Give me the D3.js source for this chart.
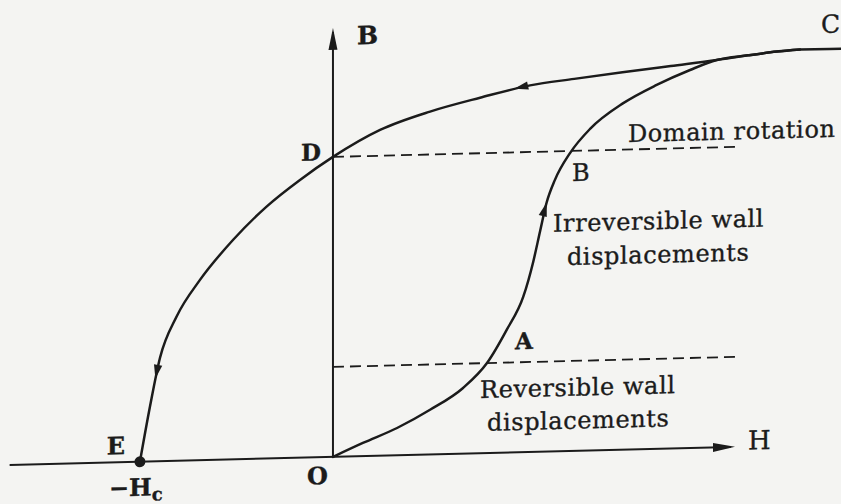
<!DOCTYPE html>
<html>
<head>
<meta charset="utf-8">
<script src="https://cdn.jsdelivr.net/npm/d3@7"></script>
<style>
  html, body { margin: 0; padding: 0; background: #f4f4f2; }
  svg { display: block; }
  text { font-family: "DejaVu Serif", "Liberation Serif", serif; fill: #1b1b1b; stroke: #1b1b1b; stroke-width: 0.35px; }
</style>
</head>
<body>
<script>
// B–H magnetisation curve of a ferromagnet (arbitrary units, H normalised to Hc)

// initial magnetisation curve O → A → B → C
const initialH = [0, 0.155, 0.332, 0.503, 0.674, 0.798, 0.900, 0.986, 1.038, 1.073, 1.107, 1.150, 1.228, 1.332, 1.504, 1.677, 1.850, 1.988, 2.150, 2.300, 2.420, 2.632];
const initialB = [0, 0.044, 0.091, 0.149, 0.219, 0.300, 0.409, 0.518, 0.635, 0.735, 0.830, 0.905, 0.993, 1.072, 1.155, 1.213, 1.260, 1.291, 1.304, 1.314, 1.319, 1.318];

// demagnetising branch C → D → E
const descendingH = [2.420, 2.300, 2.150, 1.988, 1.750, 1.500, 1.250, 1.021, 0.762, 0.503, 0.244, 0, -0.171, -0.344, -0.517, -0.689, -0.810, -0.896, -0.948, -1.0];
const descendingB = [1.319, 1.314, 1.304, 1.291, 1.275, 1.258, 1.240, 1.222, 1.185, 1.143, 1.086, 1.0, 0.926, 0.840, 0.732, 0.601, 0.481, 0.345, 0.183, 0];

// reference levels and points
const levelA = 0.30;          // end of reversible wall motion
const remanence = 1.0;        // D, B at H = 0
const coercive = -1.0;        // E, −Hc
const pointA = [0.798, 0.300];
const pointB = [1.228, 0.993];
const pointC = [2.420, 1.319];
const axisH = [-1.675, 2.083];
const axisB = 1.43;
const dashEnd = 2.11;

// H positions of the direction arrows on the curves
const arrowInitial = 1.107;
const arrowTop = 0.94;
const arrowLeft = -0.92;

const W = 841, H = 504;
const x = d3.scaleLinear().domain([-1.725, 2.632]).range([0, W]);
const y = d3.scaleLinear().domain([-0.157, 1.523]).range([H, 0]);

const svg = d3.select("body").append("svg")
  .attr("width", W).attr("height", H)
  .attr("viewBox", `0 0 ${W} ${H}`);

svg.append("rect").attr("width", W).attr("height", H).attr("fill", "#f4f4f2");

// the printed figure sits slightly tilted on the page
const ox = x(0), oy = y(0);
const g = svg.append("g")
  .attr("transform", `translate(${ox},${oy}) skewY(-1.43) translate(${-ox},${-oy})`);

const ink = "#1b1b1b";

const line = d3.line()
  .x(d => x(d[0])).y(d => y(d[1]))
  .curve(d3.curveMonotoneX);

const initial = initialH.map((h, i) => [h, initialB[i]]);
const descending = descendingH.map((h, i) => [h, descendingB[i]]).reverse();

// axes
g.append("line")
  .attr("x1", x(axisH[0])).attr("y1", y(0))
  .attr("x2", x(axisH[1]) - 4).attr("y2", y(0))
  .attr("stroke", ink).attr("stroke-width", 2);
g.append("line")
  .attr("x1", x(0)).attr("y1", y(0))
  .attr("x2", x(0)).attr("y2", y(axisB) + 4)
  .attr("stroke", ink).attr("stroke-width", 2);

// reference dashed levels
[remanence, levelA].forEach(b => {
  g.append("line")
    .attr("x1", x(0)).attr("y1", y(b))
    .attr("x2", x(dashEnd)).attr("y2", y(b))
    .attr("stroke", ink).attr("stroke-width", 1.8)
    .attr("stroke-dasharray", "11 6");
});

// curves
const paths = [initial, descending].map(data =>
  g.append("path")
    .datum(data)
    .attr("d", line)
    .attr("fill", "none")
    .attr("stroke", ink)
    .attr("stroke-width", 2.5)
    .attr("stroke-linecap", "round"));

// arrowhead: filled triangle with its tip at (px, py) pointing at angle a
function arrowHead(px, py, a, len, half) {
  const c = Math.cos(a), s = Math.sin(a);
  const bx = px - c * len, by = py - s * len;
  const pts = [
    [px, py],
    [bx - s * half, by + c * half],
    [bx + s * half, by - c * half]
  ];
  g.append("path")
    .attr("d", "M" + pts.map(p => p.join(",")).join("L") + "Z")
    .attr("fill", ink);
}

// arrow on a curve at H = h; dir = +1 along the path, -1 against it
function arrowOnPath(pathSel, h, dir) {
  const node = pathSel.node();
  const total = node.getTotalLength();
  const target = x(h);
  let best = 0, bestD = Infinity;
  for (let l = 0; l <= total; l += 0.5) {
    const p = node.getPointAtLength(l);
    const d = Math.abs(p.x - target);
    if (d < bestD) { bestD = d; best = l; }
  }
  const p0 = node.getPointAtLength(best);
  const p1 = node.getPointAtLength(Math.min(total, Math.max(0, best + dir * 4)));
  const a = Math.atan2(p1.y - p0.y, p1.x - p0.x);
  arrowHead(p0.x, p0.y, a, 14, 4.2);
}
arrowOnPath(paths[0], arrowInitial, 1);
arrowOnPath(paths[1], arrowTop, -1);
arrowOnPath(paths[1], arrowLeft, -1);

// axis arrowheads
arrowHead(x(axisH[1]), y(0), 0, 22, 4.5);
arrowHead(x(0), y(axisB), -Math.PI / 2, 22, 4.5);

// coercive point E
g.append("circle")
  .attr("cx", x(coercive)).attr("cy", y(0))
  .attr("r", 5.5).attr("fill", ink);

// letters
function label(txt, px, py, opts = {}) {
  return g.append("text")
    .attr("x", px).attr("y", py)
    .attr("font-size", opts.size || 24)
    .attr("font-weight", opts.bold ? "bold" : "normal")
    .attr("letter-spacing", opts.spacing || 0)
    .attr("text-anchor", opts.anchor || "start")
    .text(txt);
}

label("B", x(0) + 24, y(axisB) + 17, { bold: true, size: 25 });
label("H", x(axisH[1]) + 13, y(0) + 3, { size: 26 });
label("O", x(0) - 5, y(0) + 27, { bold: true, size: 24, anchor: "end" });
label("E", x(coercive) - 15, y(0) - 8, { bold: true, size: 24, anchor: "end" });
label("D", x(0) - 12, y(remanence) + 3, { bold: true, size: 23, anchor: "end" });
label("A", x(pointA[0]) + 28, y(pointA[1]) - 13, { bold: true, size: 23 });
label("B", x(pointB[0]) + 2, y(pointB[1]) + 28, { size: 24 });
label("C", x(pointC[0]) + 40, y(pointC[1]) - 16, { size: 25, anchor: "end" });

const hc = label("−H", x(coercive) - 31, y(0) + 34, { bold: true, size: 24 });
hc.append("tspan").attr("dy", 5).attr("font-size", 18).text("c");

// region notes
const notes = [
  ["Domain rotation", 1.528, 1.025],
  ["Irreversible wall", 1.140, 0.732],
  ["displacements", 1.212, 0.620],
  ["Reversible wall", 0.762, 0.184],
  ["displacements", 0.798, 0.074]
];
notes.forEach(([t, h, b]) => label(t, x(h), y(b), { size: 24, spacing: 0.6 }));
</script>
</body>
</html>
